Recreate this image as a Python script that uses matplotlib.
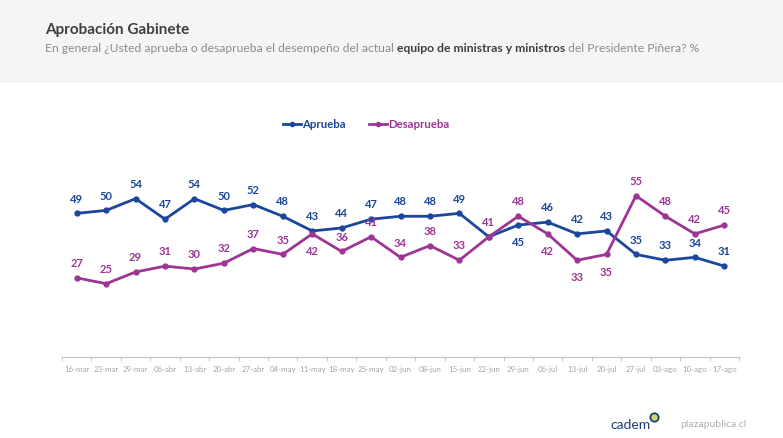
import matplotlib
matplotlib.use("Agg")
import matplotlib.pyplot as plt
from matplotlib.patches import Rectangle
from matplotlib.lines import Line2D

plt.rcParams['font.family'] = ['Lato', 'DejaVu Sans']

fechas = ['16-mar', '23-mar', '29-mar', '06-abr', '13-abr', '20-abr', '27-abr',
          '04-may', '11-may', '18-may', '25-may', '02-jun', '08-jun', '15-jun',
          '22-jun', '29-jun', '06-jul', '13-jul', '20-jul', '27-jul', '03-ago',
          '10-ago', '17-ago']
aprueba = [49, 50, 54, 47, 54, 50, 52, 48, 43, 44, 47, 48, 48, 49,
           41, 45, 46, 42, 43, 35, 33, 34, 31]
desaprueba = [27, 25, 29, 31, 30, 32, 37, 35, 42, 36, 41, 34, 38, 33,
              41, 48, 42, 33, 35, 55, 48, 42, 45]

# which labels go below the point
abajo_aprueba = {15}
abajo_desaprueba = {8, 16, 17, 18}
sin_label_aprueba = {14}

AZUL = '#1a469c'
MORADO = '#9c3594'
GRIS = '#a6a6a6'

W, H = 783, 439
fig = plt.figure(figsize=(W / 100, H / 100), dpi=100)
fig.patch.set_facecolor('white')

# gray header band
fig.patches.append(Rectangle((0, 1 - 84 / H), 1, 84 / H, transform=fig.transFigure,
                             facecolor='#f4f5f7', edgecolor='none', zorder=0))

fig.text(45 / W, 1 - 30 / H, 'Aprobación Gabinete', fontsize=11, fontweight='bold',
         color='#3f3f3f', va='center', ha='left')

# subtitle with a bold part
partes = [('En general ¿Usted aprueba o desaprueba el desempeño del actual ', 'normal', '#8c8c8c'),
          ('equipo de ministras y ministros', 'bold', '#3f3f3f'),
          (' del Presidente Piñera? %', 'normal', '#8c8c8c')]
renderer = fig.canvas.get_renderer()
x = 45 / W
for txt, peso, col in partes:
    t = fig.text(x, 1 - 48 / H, txt, fontsize=8.75, fontweight=peso, color=col,
                 va='center', ha='left')
    bb = t.get_window_extent(renderer=renderer)
    x += bb.width / W

ax = fig.add_axes([62 / W, (H - 358) / H, 677 / W, 258 / H])
xs = list(range(len(fechas)))
ax.plot(xs, aprueba, color=AZUL, lw=2, marker='o', ms=3.5, zorder=3)
ax.plot(xs, desaprueba, color=MORADO, lw=2, marker='o', ms=3.5, zorder=3)

for i, v in enumerate(aprueba):
    if i in sin_label_aprueba:
        continue
    off = -12 if i in abajo_aprueba else 11
    ax.annotate(str(v), (i, v), xytext=(0, off), textcoords='offset points',
                ha='center', va='center', fontsize=8, fontweight='bold', color=AZUL)
for i, v in enumerate(desaprueba):
    off = -12 if i in abajo_desaprueba else 11
    ax.annotate(str(v), (i, v), xytext=(0, off), textcoords='offset points',
                ha='center', va='center', fontsize=8, fontweight='bold', color=MORADO)

ax.set_xlim(-0.5, len(fechas) - 0.5)
ax.set_ylim(0, 88)
ax.set_yticks([])
for s in ['top', 'right', 'left']:
    ax.spines[s].set_visible(False)
ax.spines['bottom'].set_color('#bfbfbf')
ax.set_xticks(xs)
ax.set_xticklabels(fechas, fontsize=5.7, color=GRIS)
ax.tick_params(axis='x', which='major', length=0, pad=6)
ax.set_xticks([i - 0.5 for i in range(len(fechas) + 1)], minor=True)
ax.tick_params(axis='x', which='minor', length=3, color='#bfbfbf')
ax.set_facecolor('none')

handles = [Line2D([], [], color=AZUL, lw=2, marker='o', ms=3),
           Line2D([], [], color=MORADO, lw=2, marker='o', ms=3)]
leg = fig.legend(handles, ['Aprueba', 'Desaprueba'], loc='center',
                 bbox_to_anchor=(366 / W, 1 - 125 / H), ncol=2, frameon=False,
                 fontsize=8.2, handlelength=1.6, handletextpad=0.1, columnspacing=2.0)
for t, c in zip(leg.get_texts(), [AZUL, MORADO]):
    t.set_color(c)
    t.set_fontweight('bold')

# footer logos
fig.text(630 / W, 1 - 425 / H, 'cadem', fontsize=10, color='#1f3f7a',
         ha='center', va='center')
fig.add_artist(Line2D([654 / W], [1 - 418 / H], transform=fig.transFigure,
                      marker='o', ms=6, mfc='#c8d86a', mec='#1f3f7a', mew=1.3, ls='none'))
fig.text(713 / W, 1 - 425 / H, 'plazapublica.cl', fontsize=7.5, color='#b0b0b0',
         ha='center', va='center')

fig.savefig('out.png', dpi=100)
